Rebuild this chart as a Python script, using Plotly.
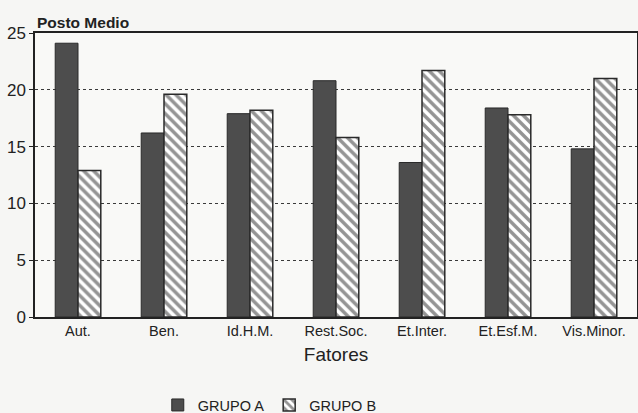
import plotly.graph_objects as go

categories = ["Aut.", "Ben.", "Id.H.M.", "Rest.Soc.", "Et.Inter.", "Et.Esf.M.", "Vis.Minor."]
grupo_a = [24.1, 16.2, 17.9, 20.8, 13.6, 18.4, 14.8]
grupo_b = [12.9, 19.6, 18.2, 15.8, 21.7, 17.8, 21.0]
y_ticks = [0, 5, 10, 15, 20, 25]

font_family = "Liberation Sans, Arial, sans-serif"
ink = "#222222"

fig = go.Figure()
fig.add_trace(go.Bar(
    x=categories, y=grupo_a, name="GRUPO A",
    marker=dict(color="#4d4d4d", line=dict(color="#2a2a2a", width=1)),
))
fig.add_trace(go.Bar(
    x=categories, y=grupo_b, name="GRUPO B",
    marker=dict(color="white", line=dict(color="#2a2a2a", width=1.5),
                pattern=dict(shape="\\", fgcolor="#2a2a2a", bgcolor="white",
                             size=7, solidity=0.5)),
))

fig.update_layout(
    width=638, height=413,
    margin=dict(l=35, r=1, t=33, b=96, autoexpand=False),
    paper_bgcolor="#f6f6f4", plot_bgcolor="#f9f9f7",
    barmode="group", bargap=0.47, bargroupgap=0,
    font=dict(family=font_family, color=ink, size=14),
    showlegend=True,
    legend=dict(orientation="h", x=0.39, xanchor="center", y=-0.31, yanchor="middle",
                font=dict(size=14.5, color=ink), itemwidth=30,
                bgcolor="rgba(0,0,0,0)"),
    xaxis=dict(
        range=[-0.5, 6.5], showline=True, linecolor=ink, linewidth=1.5, mirror=True,
        ticks="", tickfont=dict(size=14.5, color=ink),
        title=dict(text="Fatores", font=dict(size=19, color=ink), standoff=10),
        showgrid=False,
    ),
    yaxis=dict(
        range=[0, 25], tickvals=y_ticks, showline=True, linecolor=ink, linewidth=1.5,
        mirror=True, ticks="outside", ticklen=4, tickcolor=ink,
        tickfont=dict(size=17, color=ink),
        showgrid=True, gridcolor="#3a3a3a", griddash="dot", gridwidth=1,
        zeroline=False,
    ),
    annotations=[dict(text="<b>Posto Medio</b>", xref="paper", yref="paper",
                      x=0, y=1, xanchor="left", yanchor="bottom", yshift=0,
                      showarrow=False, font=dict(size=15.5, color=ink))],
)

fig.write_html(
    "out.html",
    config={"displayModeBar": False},
    post_script="document.body.style.margin='0';document.body.style.overflow='hidden';",
)
